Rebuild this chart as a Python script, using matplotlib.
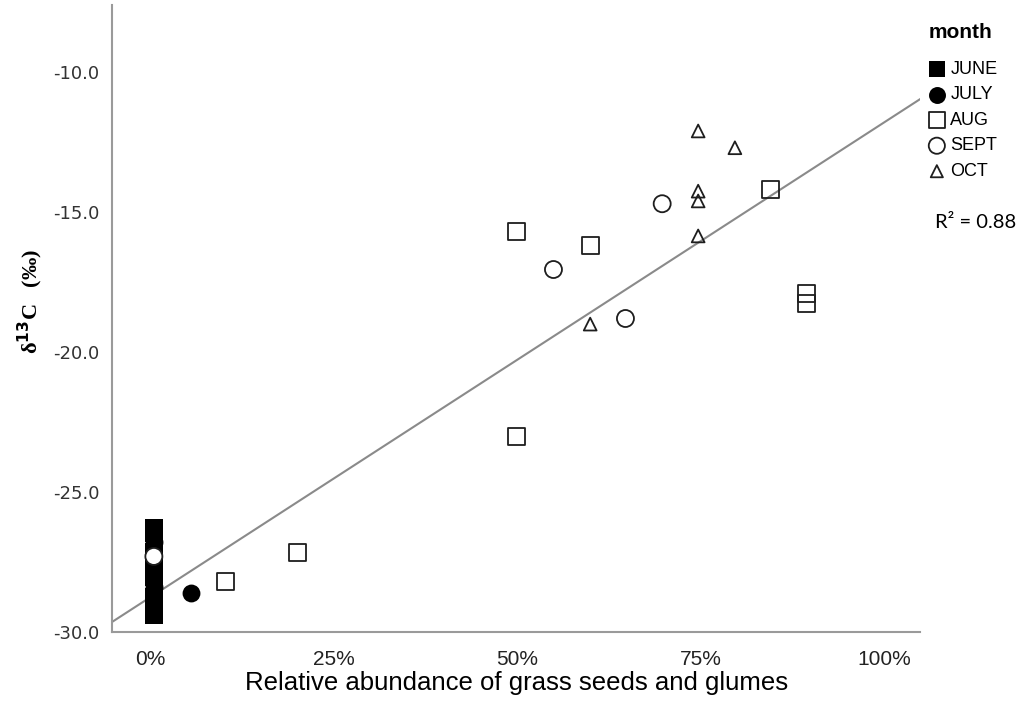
import matplotlib
matplotlib.use("Agg")
import matplotlib.pyplot as plt
import numpy as np

plt.rcParams['axes.unicode_minus'] = False

# values (x in %, y = delta13C in permil)
june_x = [0.5, 0.5, 0.5, 0.5, 0.5, 0.5, 0.5, 0.5, 0.5]
june_y = [-26.3, -26.45, -27.15, -27.5, -27.8, -28.05, -28.75, -29.05, -29.4]
july_x = [0.5, 0.5, 5.5]
july_y = [-26.8, -28.4, -28.6]
aug_x = [10.3, 20.1, 49.9, 49.9, 59.9, 84.5, 89.4, 89.4]
aug_y = [-28.2, -27.15, -15.7, -23.0, -16.2, -14.2, -17.9, -18.25]
sept_x = [0.5, 54.9, 64.7, 69.7]
sept_y = [-27.3, -17.05, -18.8, -14.7]
oct_x = [59.9, 74.6, 74.6, 74.6, 74.6, 79.6]
oct_y = [-19.0, -12.1, -14.25, -14.6, -15.85, -12.7]

fit_intercept = -28.76
fit_slope = 0.1698
r2_text = "R² = 0.88"

xticks = [0, 25, 50, 75, 100]
yticks = [-30, -25, -20, -15, -10]

fig = plt.figure(figsize=(10.24, 7.19), dpi=100)
ax = fig.add_axes([112 / 1024, 1 - 632 / 719, 808 / 1024, 627 / 719])

xlim = (-5.2, 104.8)
ax.set_xlim(*xlim)
ax.set_ylim(-30, -7.6)

lx = np.array(xlim)
ax.plot(lx, fit_intercept + fit_slope * lx, color='#8a8a8a', lw=1.5, zorder=1)

edge = '#1e1e1e'
ax.scatter(aug_x, aug_y, marker='s', s=150, facecolors='none', edgecolors=edge,
           linewidths=1.3, label='AUG', zorder=3)
ax.scatter(oct_x, oct_y, marker='^', s=85, facecolors='none', edgecolors=edge,
           linewidths=1.3, label='OCT', zorder=3)
ax.scatter(june_x, june_y, marker='s', s=150, color='black', linewidths=0,
           label='JUNE', zorder=4)
ax.scatter(july_x, july_y, marker='o', s=165, color='black', linewidths=0,
           label='JULY', zorder=4)
sept_fc = ['white' if x < 1 else 'none' for x in sept_x]
ax.scatter(sept_x, sept_y, marker='o', s=150, facecolors=sept_fc, edgecolors=edge,
           linewidths=1.3, label='SEPT', zorder=5)

for s in ['top', 'right']:
    ax.spines[s].set_visible(False)
for s in ['left', 'bottom']:
    ax.spines[s].set_color('#9a9a9a')
    ax.spines[s].set_linewidth(1.5)

ax.set_xticks(xticks)
ax.set_xticklabels([f"{t}%" for t in xticks])
for lab in ax.get_xticklabels():
    lab.set_fontfamily('Liberation Sans')
    lab.set_fontsize(15)
    lab.set_color('#222222')
ax.set_yticks(yticks)
ax.set_yticklabels([f"{t:.1f}" for t in yticks])
for lab in ax.get_yticklabels():
    lab.set_fontsize(13)
    lab.set_color('#333333')
ax.tick_params(axis='x', length=0, pad=13)
ax.tick_params(axis='y', length=0, pad=9)

fig.text(517 / 1024, 1 - 683 / 719, "Relative abundance of grass seeds and glumes",
         ha='center', va='center', fontsize=18.5, fontfamily='Liberation Sans')
fig.text(30 / 1024, 1 - 302 / 719, r"δ$^{\mathbf{13}}$C   (‰)", rotation=90,
         ha='center', va='center', fontsize=16, fontweight='bold',
         fontfamily='Liberation Serif')

# legend
handles, labels = ax.get_legend_handles_labels()
order = ['JUNE', 'JULY', 'AUG', 'SEPT', 'OCT']
hmap = dict(zip(labels, handles))
fig.text(929 / 1024, 1 - 33 / 719, 'month', ha='left', va='center',
         fontsize=15, fontweight='bold', fontfamily='Liberation Sans')
leg = fig.legend([hmap[o] for o in order], order, loc='upper left',
                 bbox_to_anchor=(926 / 1024, 1 - 61 / 719), frameon=False,
                 handletextpad=0.15, handlelength=1.2, borderpad=0,
                 labelspacing=0.47, borderaxespad=0,
                 prop={'family': 'Liberation Sans', 'size': 13},
                 markerscale=0.95)

fig.text(976 / 1024, 1 - 222 / 719, r2_text, ha='center', va='center',
         fontsize=14.5, fontfamily='Lato')

fig.savefig('out.png', dpi=100)
